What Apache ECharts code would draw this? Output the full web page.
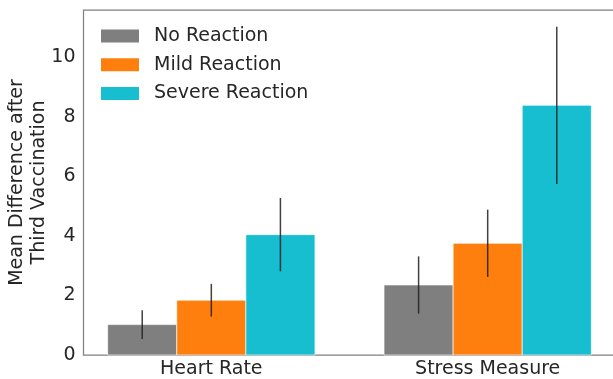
<!DOCTYPE html>
<html>
<head>
<meta charset="utf-8">
<script src="https://cdn.jsdelivr.net/npm/echarts@6/dist/echarts.min.js"></script>
<style>html,body{margin:0;padding:0;background:#fff}#c{width:613px;height:379px}</style>
</head>
<body>
<div id="c"></div>
<script>
const categories = ['Heart Rate', 'Stress Measure'];
const seriesNames = ['No Reaction', 'Mild Reaction', 'Severe Reaction'];
const noReaction = [1.02, 2.35];
const mildReaction = [1.84, 3.75];
const severeReaction = [4.04, 8.38];
const noReactionErr = [0.48, 0.96];
const mildReactionErr = [0.55, 1.13];
const severeReactionErr = [1.23, 2.64];
const yTicks = [0, 2, 4, 6, 8, 10];

const colors = ['#7f7f7f', '#ff7f0e', '#17becf'];
const values = [noReaction, mildReaction, severeReaction];
const errs = [noReactionErr, mildReactionErr, severeReactionErr];
const barW = 0.25;
const offsets = [-0.25, 0, 0.25];
const textColor = '#262626';
const font = 'DejaVu Sans';

const series = [];
values.forEach((vals, si) => {
  series.push({
    type: 'custom',
    name: seriesNames[si],
    itemStyle: { color: colors[si] },
    data: vals.map((v, ci) => [ci, v]),
    renderItem: function (params, api) {
      const x = api.value(0) + offsets[si];
      const v = api.value(1);
      const p1 = api.coord([x - barW / 2, v]);
      const p2 = api.coord([x + barW / 2, 0]);
      return {
        type: 'rect',
        shape: { x: p1[0], y: p1[1], width: p2[0] - p1[0], height: p2[1] - p1[1] },
        style: { fill: colors[si], stroke: 'rgba(255,255,255,0.8)', lineWidth: 0.8 }
      };
    },
    z: 2
  });
});
values.forEach((vals, si) => {
  series.push({
    type: 'custom',
    name: seriesNames[si] + ' err',
    data: vals.map((v, ci) => [ci, v, errs[si][ci]]),
    renderItem: function (params, api) {
      const x = api.value(0) + offsets[si];
      const v = api.value(1);
      const e = api.value(2);
      const a = api.coord([x, v + e]);
      const b = api.coord([x, v - e]);
      return {
        type: 'line',
        shape: { x1: a[0], y1: a[1], x2: b[0], y2: b[1] },
        style: { stroke: 'rgba(30,30,30,0.85)', lineWidth: 1.5 }
      };
    },
    z: 3
  });
});

const chart = echarts.init(document.getElementById('c'), null, { renderer: 'canvas' });
chart.setOption({
  animation: false,
  backgroundColor: '#fff',
  grid: {
    left: 83.5, top: 10, bottom: 24, right: -2.5,
    containLabel: false,
    outerBoundsMode: 'none',
    show: true, borderColor: '#808080', borderWidth: 1.25, backgroundColor: 'transparent'
  },
  legend: {
    data: seriesNames,
    orient: 'vertical',
    left: 96, top: 21,
    icon: 'rect',
    itemWidth: 38, itemHeight: 13, itemGap: 8.7,
    textStyle: { fontFamily: font, fontSize: 19, lineHeight: 20, color: textColor, padding: [0, 0, 0, 10] }
  },
  xAxis: {
    type: 'value',
    min: -0.4625, max: 1.4625,
    axisLine: { show: false },
    axisTick: { show: false },
    splitLine: { show: false },
    axisLabel: {
      customValues: [0, 1],
      formatter: v => categories[Math.round(v)] || '',
      fontFamily: font, fontSize: 19, color: textColor, margin: 5
    }
  },
  yAxis: {
    type: 'value',
    min: yTicks[0], max: 11.58, interval: yTicks[1] - yTicks[0],
    axisLine: { show: false },
    axisTick: { show: false },
    splitLine: { show: false },
    axisLabel: {
      fontFamily: font, fontSize: 19, color: textColor, margin: 8,
      showMaxLabel: false,
      formatter: v => (yTicks.indexOf(v) >= 0 ? String(v) : '')
    },
    name: 'Mean Difference after\nThird Vaccination',
    nameLocation: 'middle',
    nameRotate: 90,
    nameGap: 33,
    nameMoveOverlap: false,
    nameTextStyle: { fontFamily: font, fontSize: 19, color: textColor, lineHeight: 22 }
  },
  series: series
});
</script>
</body>
</html>
